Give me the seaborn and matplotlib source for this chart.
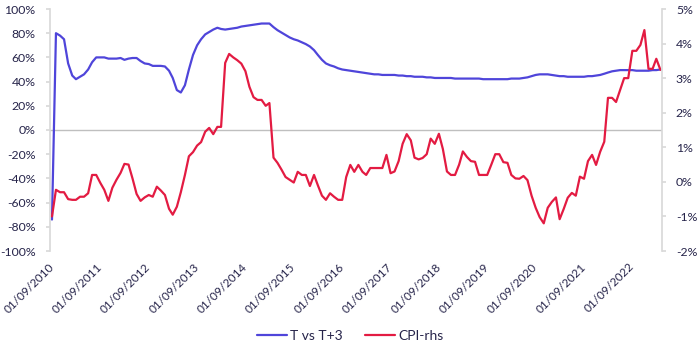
import matplotlib
matplotlib.use("Agg")
import matplotlib.pyplot as plt
from matplotlib.ticker import FuncFormatter
import pandas as pd
import seaborn as sns

# Monthly observations, Sep 2010 onwards
start_month = "2010-09-01"

# Correlation between T and T+3 (left axis, %)
t_vs_t3 = [
    -74, 80, 78, 75, 55, 45, 42, 44, 46, 50, 56, 60,
    60, 60, 59, 59, 59, 59.5, 58, 59, 59.5, 59.5, 57, 55,
    54.5, 53, 53, 53, 52.5, 49, 43, 33, 31, 37, 50, 62,
    70, 75, 79, 81, 83, 84.5, 83.5, 83, 83.5, 84, 84.5, 85.5,
    86, 86.5, 87, 87.5, 88, 88, 88, 85, 82.5, 80.5, 78.5, 76.5,
    75, 74, 72.5, 71, 69, 66, 62, 58, 55, 53.5, 52.5, 51,
    50, 49.5, 49, 48.5, 48, 47.5, 47, 46.5, 46, 46, 45.5, 45.5,
    45.5, 45.5, 45, 45, 44.5, 44.5, 44, 44, 44, 43.5, 43.5, 43,
    43, 43, 43, 43, 42.5, 42.5, 42.5, 42.5, 42.5, 42.5, 42.5, 42,
    42, 42, 42, 42, 42, 42, 42.5, 42.5, 42.5, 43, 43.5, 44.5,
    45.5, 46, 46, 46, 45.5, 45, 44.5, 44.5, 44, 44, 44, 44,
    44, 44.5, 44.5, 45, 45.5, 46.5, 47.5, 48.5, 49, 49.5, 49.5, 49.5,
    49.5, 49, 49, 49, 49, 49.5, 49.5, 50,
]

# CPI, year on year (right axis, %)
cpi = [
    -1.0, -0.23, -0.3, -0.3, -0.5, -0.52, -0.52, -0.43, -0.43, -0.33, 0.2, 0.2,
    -0.03, -0.23, -0.55, -0.17, 0.06, 0.26, 0.52, 0.5, 0.1, -0.35, -0.55, -0.45,
    -0.38, -0.43, -0.14, -0.25, -0.38, -0.78, -0.95, -0.72, -0.3, 0.2, 0.74, 0.86,
    1.05, 1.15, 1.45, 1.56, 1.38, 1.59, 1.59, 3.44, 3.7, 3.6, 3.52, 3.42,
    3.2, 2.75, 2.45, 2.37, 2.37, 2.2, 2.28, 0.7, 0.55, 0.35, 0.14, 0.06,
    -0.02, 0.29, 0.2, 0.2, -0.12, 0.2, -0.1, -0.4, -0.52, -0.33, -0.43, -0.52,
    -0.52, 0.14, 0.49, 0.29, 0.49, 0.29, 0.2, 0.4, 0.4, 0.4, 0.4, 0.78,
    0.25, 0.3, 0.6, 1.1, 1.38, 1.2, 0.7, 0.65, 0.69, 0.8, 1.25, 1.1,
    1.39, 0.95, 0.3, 0.2, 0.2, 0.5, 0.88, 0.72, 0.6, 0.58, 0.2, 0.2,
    0.2, 0.49, 0.8, 0.8, 0.57, 0.55, 0.2, 0.1, 0.09, 0.17, 0.05, -0.4,
    -0.75, -1.02, -1.2, -0.75, -0.58, -0.45, -1.08, -0.78, -0.46, -0.32, -0.4, 0.15,
    0.09, 0.6, 0.78, 0.49, 0.87, 1.16, 2.43, 2.43, 2.31, 2.66, 3.0, 3.0,
    3.79, 3.79, 3.96, 4.39, 3.27, 3.27, 3.56, 3.24,
]

left_ticks = list(range(-100, 101, 20))
right_ticks = list(range(-2, 6))
tick_years = list(range(2010, 2023))

BLUE = "#4F45DA"
RED = "#E31B42"
TEXT = "#26244A"
GRID = "#BFBFBF"
SPINE = "#D9D9D9"

dates = pd.date_range(start_month, periods=len(cpi), freq="MS")
df = pd.DataFrame({"date": dates, "T vs T+3": t_vs_t3, "CPI-rhs": cpi})

sns.set_theme(style="white")
plt.rcParams["font.family"] = ["Lato", "DejaVu Sans"]

fig = plt.figure(figsize=(7.0, 3.49), dpi=100)
ax = fig.add_axes([50 / 700, 1 - 251 / 349, 612 / 700, 242 / 349])
ax2 = ax.twinx()

sns.lineplot(data=df, x="date", y="T vs T+3", ax=ax, color=BLUE, lw=1.6,
             label="T vs T+3", legend=False)
sns.lineplot(data=df, x="date", y="CPI-rhs", ax=ax2, color=RED, lw=1.6,
             label="CPI-rhs", legend=False)

ax.axhline(0, color=GRID, lw=1.0, zorder=0)

ax.set_ylim(-100, 100)
ax2.set_ylim(-2, 5)
ax.set_yticks(left_ticks)
ax2.set_yticks(right_ticks)
ax.yaxis.set_major_formatter(FuncFormatter(lambda v, _: f"{v:.0f}%"))
ax2.yaxis.set_major_formatter(FuncFormatter(lambda v, _: f"{v:.0f}%"))

ax.set_xlim(dates[0] - pd.Timedelta(days=15), dates[-1] + pd.Timedelta(days=12))
tick_dates = [pd.Timestamp(f"{y}-09-01") for y in tick_years]
ax.set_xticks(tick_dates)
ax.set_xticklabels([d.strftime("%d/%m/%Y") for d in tick_dates])

ax.set_xlabel("")
ax.set_ylabel("")
ax2.set_ylabel("")

for a in (ax, ax2):
    for s in a.spines.values():
        s.set_visible(False)
ax.spines["left"].set_visible(True)
ax.spines["left"].set_color(SPINE)
ax2.spines["right"].set_visible(True)
ax2.spines["right"].set_color(SPINE)

ax.tick_params(axis="y", which="major", left=True, length=3, color=SPINE,
               labelsize=8.8, labelcolor=TEXT, pad=7.5)
ax2.tick_params(axis="y", which="major", right=True, length=3, color=SPINE,
                labelsize=8.8, labelcolor=TEXT, pad=7)
ax.tick_params(axis="x", which="major", bottom=False, length=0,
               labelsize=8.5, labelcolor=TEXT, pad=10)
for lab in ax.get_xticklabels():
    lab.set_rotation(45)
    lab.set_ha("right")
    lab.set_va("center")
    lab.set_rotation_mode("anchor")

ax.grid(False)
ax2.grid(False)

handles = ax.get_lines()[:1] + ax2.get_lines()[:1]
fig.legend(handles, ["T vs T+3", "CPI-rhs"], loc="lower center",
           bbox_to_anchor=(0.5, -0.015), ncol=2, frameon=False, fontsize=10,
           handlelength=2.2, handletextpad=0.2, columnspacing=1.6,
           labelcolor=TEXT)

fig.savefig("out.png", dpi=100)
